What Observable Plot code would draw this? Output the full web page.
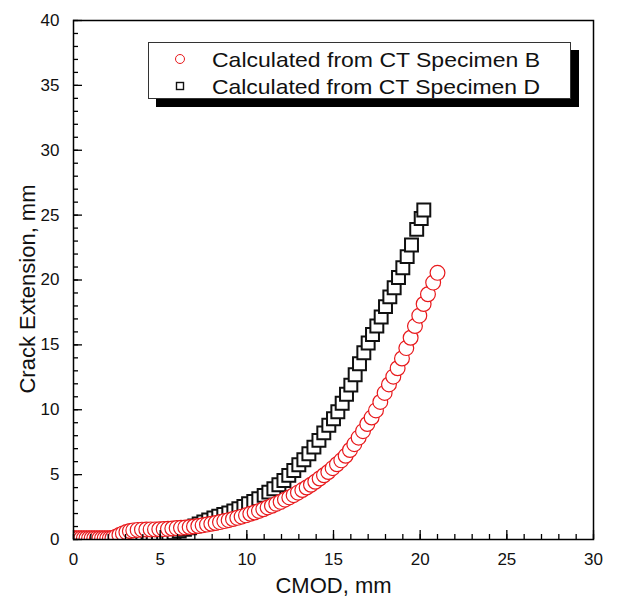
<!DOCTYPE html>
<html>
<head>
<meta charset="utf-8">
<script src="https://cdn.jsdelivr.net/npm/d3@7"></script>
<script src="https://cdn.jsdelivr.net/npm/@observablehq/plot@0.6"></script>
<style>
  html, body { margin: 0; padding: 0; background: #fff; }
  #wrap { position: relative; width: 617px; height: 599px; overflow: hidden; }
  #legend {
    position: absolute; left: 148px; top: 42px; width: 421px; height: 55px;
    border: 1.3px solid #333; background: #fff; box-shadow: 8px 8px 0 #000;
  }
  #legend svg { position: absolute; left: 0; top: 0; }
</style>
</head>
<body>
<div id="wrap"></div>
<script>
// Specimen B (red circles)
const bX = [0.00,0.15,0.30,0.45,0.60,0.75,0.90,1.05,1.20,1.35,1.50,1.65,1.80,1.95,2.10,2.25,
  2.45,2.65,2.85,3.05,3.25,3.45,3.70,3.95,4.20,4.45,4.70,4.95,5.20,5.45,5.70,5.95,6.20,6.45,
  6.70,6.95,7.20,7.45,7.70,7.95,8.20,8.45,8.70,8.95,9.20,9.45,9.70,9.95,10.20,10.45,10.70,
  10.95,11.20,11.45,11.70,11.95,12.20,12.45,12.70,12.95,13.20,13.45,13.70,13.95,14.20,14.45,
  14.70,14.95,15.20,15.45,15.70,15.95,16.20,16.45,16.70,16.95,17.20,17.45,17.70,17.95,18.20,
  18.45,18.70,18.95,19.20,19.45,19.70,19.95,20.20,20.45,20.75,21.00];
const bY = [0.10,0.10,0.10,0.10,0.10,0.10,0.10,0.10,0.10,0.10,0.10,0.10,0.10,0.10,0.10,0.12,
  0.22,0.35,0.47,0.57,0.65,0.70,0.74,0.76,0.77,0.78,0.78,0.79,0.80,0.82,0.85,0.88,0.90,0.93,
  0.96,1.00,1.04,1.09,1.15,1.21,1.27,1.34,1.42,1.49,1.58,1.67,1.76,1.86,1.98,2.08,2.20,
  2.33,2.47,2.60,2.75,2.90,3.07,3.24,3.42,3.61,3.81,4.01,4.22,4.45,4.70,4.95,
  5.20,5.50,5.80,6.10,6.45,6.90,7.35,7.85,8.35,8.90,9.40,9.95,10.60,11.30,11.95,
  12.55,13.20,13.95,14.75,15.55,16.45,17.25,18.15,18.90,19.80,20.55];

// Specimen D (black squares)
const dX = [4.00,4.30,4.60,4.90,5.20,5.50,5.80,6.10,6.40,6.70,7.00,7.25,7.52,7.80,8.10,8.38,
  8.67,8.96,9.25,9.54,9.83,10.10,10.40,10.69,11.00,11.27,11.56,11.85,12.14,12.42,12.71,13.00,
  13.29,13.58,13.87,14.16,14.44,14.73,15.00,15.25,15.50,15.75,16.00,16.25,16.50,16.75,17.00,
  17.25,17.50,17.75,18.00,18.25,18.50,18.75,19.00,19.25,19.50,19.80,20.06,20.21];
const dY = [0.05,0.10,0.15,0.22,0.30,0.40,0.52,0.65,0.78,0.90,1.05,1.20,1.35,1.50,1.65,1.80,
  1.92,2.05,2.20,2.37,2.55,2.75,2.93,3.14,3.40,3.65,3.91,4.22,4.55,4.94,5.32,5.76,
  6.15,6.61,7.12,7.64,8.22,8.80,9.30,9.85,10.50,11.20,11.90,12.70,13.55,14.40,15.15,
  15.80,16.45,17.15,17.95,18.70,19.40,20.20,20.95,21.80,22.70,23.90,24.74,25.40];

const xMajor = [0, 5, 10, 15, 20, 25, 30];
const xMinor = [0,1,2,3,4,5,6,7,8,9,10,11,12,13,14,15,16,17,18,19,20,21,22,23,24,25,26,27,28,29,30];
const yMajor = [0, 5, 10, 15, 20, 25, 30, 35, 40];
const yMinor = [0,1,2,3,4,5,6,7,8,9,10,11,12,13,14,15,16,17,18,19,20,21,22,23,24,25,26,27,28,29,30,31,32,33,34,35,36,37,38,39,40];
const xTitle = "CMOD, mm";
const yTitle = "Crack Extension, mm";
const seriesNames = ["Calculated from CT Specimen B", "Calculated from CT Specimen D"];

const B = bX.map((x, i) => ({x, y: bY[i]}));
const D = dX.map((x, i) => ({x, y: dY[i]}));

const font = "'Liberation Sans', Arial, Helvetica, sans-serif";

const chart = Plot.plot({
  width: 617,
  height: 599,
  marginLeft: 73,
  marginRight: 24,
  marginTop: 20,
  marginBottom: 60,
  x: {domain: [0, 30]},
  y: {domain: [0, 40]},
  style: {fontFamily: font, background: "#fff", color: "#000", overflow: "visible"},
  marks: [
    Plot.dot(D, {x: "x", y: "y", symbol: "square", r: 7.3, stroke: "#111", strokeWidth: 2, fill: "#fff", clip: true}),
    Plot.dot(B, {x: "x", y: "y", symbol: "circle", r: 7.4, stroke: "#e8191c", strokeWidth: 1.2, fill: "#fff", clip: true}),
    Plot.axisX(xMinor, {tickSize: -5, tickFormat: () => "", label: null, strokeWidth: 1.3}),
    Plot.axisX(xMajor, {tickSize: -9, tickFormat: () => "", label: null, strokeWidth: 1.3}),
    Plot.axisY(yMinor, {tickSize: -5, tickFormat: () => "", label: null, strokeWidth: 1.3}),
    Plot.axisY(yMajor, {tickSize: -9, tickFormat: () => "", label: null, strokeWidth: 1.3}),
    Plot.axisX(xMajor, {tickSize: 0, tickPadding: 13, fontSize: 17, label: null, fill: "#111"}),
    Plot.axisY(yMajor, {tickSize: 0, tickPadding: 14, fontSize: 17, label: null, fill: "#111"}),
    Plot.text([xTitle], {text: d => d, frameAnchor: "bottom", textAnchor: "middle", dy: 53, fontSize: 22, fill: "#111"}),
    Plot.text([yTitle], {text: d => d, frameAnchor: "left", textAnchor: "middle", dx: -46, dy: 9, rotate: -90, fontSize: 22, fill: "#111"}),
    Plot.frame({stroke: "#000", strokeWidth: 1.5})
  ]
});

const wrap = document.getElementById("wrap");
wrap.appendChild(chart);

// Legend
const legend = document.createElement("div");
legend.id = "legend";
const NS = "http://www.w3.org/2000/svg";
const lsvg = document.createElementNS(NS, "svg");
lsvg.setAttribute("width", 421);
lsvg.setAttribute("height", 55);
const rows = [
  {name: seriesNames[0], symbol: "circle", color: "#e8191c", cy: 16},
  {name: seriesNames[1], symbol: "square", color: "#111", cy: 43}
];
rows.forEach(r => {
  let s;
  if (r.symbol === "circle") {
    s = document.createElementNS(NS, "circle");
    s.setAttribute("cx", 31); s.setAttribute("cy", r.cy); s.setAttribute("r", 4.5);
    s.setAttribute("stroke-width", 1);
  } else {
    s = document.createElementNS(NS, "rect");
    s.setAttribute("x", 27.5); s.setAttribute("y", r.cy - 3.5); s.setAttribute("width", 7); s.setAttribute("height", 7);
    s.setAttribute("stroke-width", 1.4);
  }
  s.setAttribute("fill", "none"); s.setAttribute("stroke", r.color);
  lsvg.appendChild(s);
  const t = document.createElementNS(NS, "text");
  t.setAttribute("x", 63);
  t.setAttribute("y", r.cy + 7.5);
  t.setAttribute("font-family", font);
  t.setAttribute("font-size", 21);
  t.setAttribute("textLength", 328);
  t.setAttribute("lengthAdjust", "spacingAndGlyphs");
  t.setAttribute("fill", "#111");
  t.textContent = r.name;
  lsvg.appendChild(t);
});
legend.appendChild(lsvg);
wrap.appendChild(legend);
</script>
</body>
</html>
